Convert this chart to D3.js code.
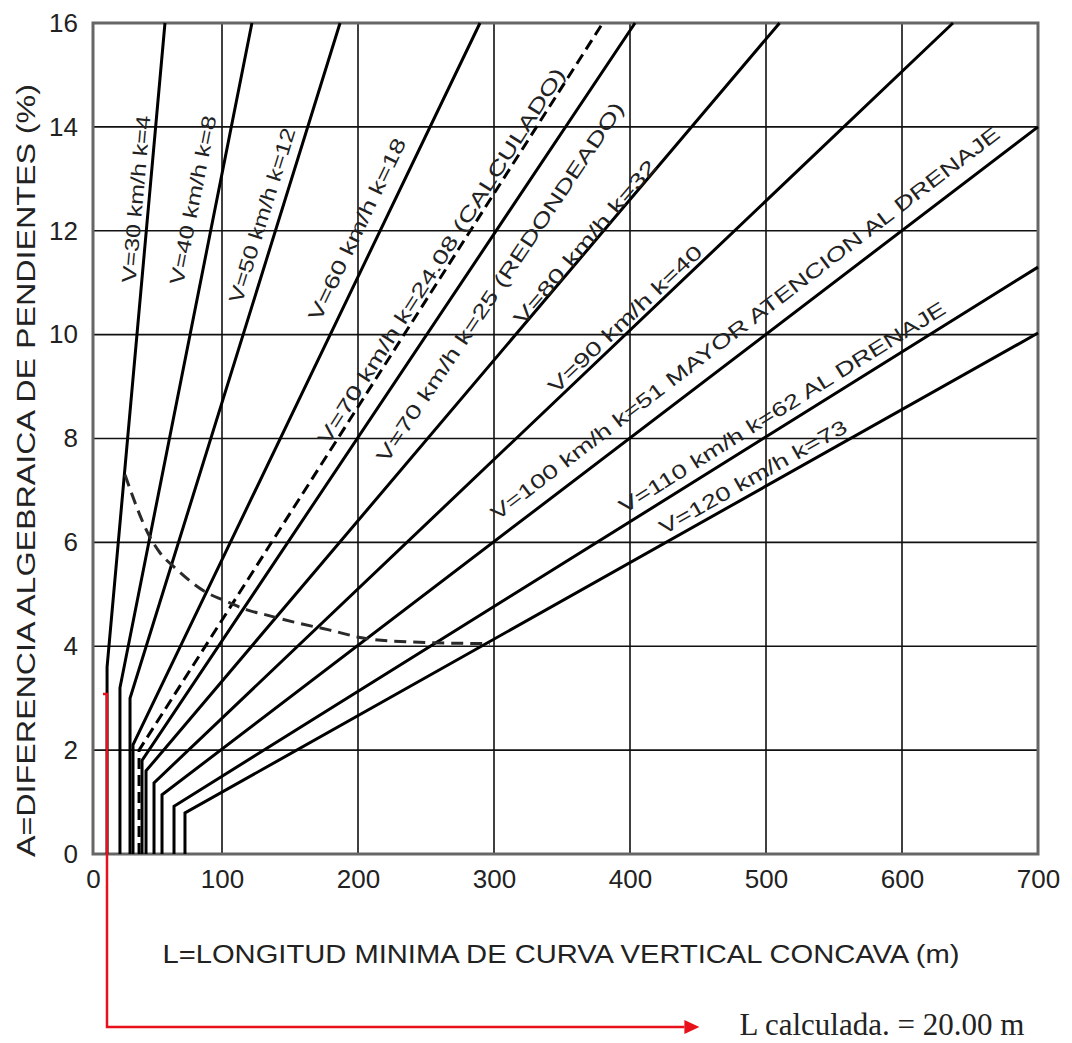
<!DOCTYPE html>
<html>
<head>
<meta charset="utf-8">
<script src="https://cdn.jsdelivr.net/npm/d3@7"></script>
<style>
  body { margin: 0; background: #fff; }
  text { font-family: "Liberation Sans", Arial, sans-serif; fill: #222; }
</style>
</head>
<body>
<svg id="chart" width="1072" height="1043"></svg>
<script>
// ---- data ----
const speeds   = ["30", "40", "50", "60", "70", "70", "80", "90", "100", "110", "120"];
const kValues  = ["4", "8", "12", "18", "24.08", "25", "32", "40", "51", "62", "73"];
const notes    = ["", "", "", "", " (CALCULADO)", " (REDONDEADO)", "", "", " MAYOR ATENCION AL DRENAJE", " AL DRENAJE", ""];
const dashed   = [false, false, false, false, true, false, false, false, false, false, false];
// vertical part: L minimum (m) up to A at the bend (%)
const minL     = [10.9, 20.9, 28.7, 31.0, 35.7, 38.0, 41.1, 47.3, 53.5, 62.8, 71.3];
const bendA    = [3.6, 3.2, 3.0, 2.1, 2.0, 1.8, 1.6, 1.37, 1.14, 0.92, 0.79];
// end of the sloped part
const endL     = [55.8, 122, 186.8, 289.7, 380, 403.7, 510, 637.5, 700, 700, 700];
const endA     = [16, 16, 16, 16, 16, 16, 16, 16, 14.0, 11.3, 10.03];
// where each label sits (L, A) and how long it runs
const labelL   = [33.3, 77.5, 129.4, 199.3, 261, 304.4, 366.9, 396.3, 484.6, 511.8, 490.4];
const labelA   = [12.61, 12.59, 12.3, 12.03, 11.51, 11.01, 11.78, 10.3, 10.22, 8.6, 7.26];
const labelLen = [168, 172, 182, 200, 442, 428, 209, 204, 634, 381, 212];

// dashed limit curve
const limitL = [24.8, 44.2, 51.9, 63.6, 88.4, 101, 118.4, 133.1, 152.2, 179.4, 203.7, 240.4, 297];
const limitA = [7.30, 6.10, 5.80, 5.51, 5.03, 4.89, 4.70, 4.60, 4.47, 4.31, 4.16, 4.08, 4.05];

const xTicks = [0, 100, 200, 300, 400, 500, 600, 700];
const yTicks = [0, 2, 4, 6, 8, 10, 12, 14, 16];

// red annotation
const calcL = 10.85, calcA = 3.08, arrowA = -3.33, arrowEndL = 440;
const calcText = "L calculada. = 20.00 m";

const svg = d3.select("#chart");

// the scan's first interval is a bit narrower than the others
const x = d3.scaleLinear().domain([0, 100, 700]).range([93, 222, 1038]);
const y = d3.scaleLinear().domain([0, 16]).range([854, 23]);

// grid
svg.append("g")
  .selectAll("line")
  .data(xTicks.slice(1, -1))
  .enter().append("line")
  .attr("x1", d => x(d)).attr("x2", d => x(d))
  .attr("y1", y(0)).attr("y2", y(16))
  .attr("stroke", "#111").attr("stroke-width", 1.6);

svg.append("g")
  .selectAll("line")
  .data(yTicks.slice(1, -1))
  .enter().append("line")
  .attr("y1", d => y(d)).attr("y2", d => y(d))
  .attr("x1", x(0)).attr("x2", x(700))
  .attr("stroke", "#111").attr("stroke-width", 1.6);

svg.append("rect")
  .attr("x", x(0)).attr("y", y(16))
  .attr("width", x(700) - x(0)).attr("height", y(0) - y(16))
  .attr("fill", "none").attr("stroke", "#666").attr("stroke-width", 3);

// axes (labels only)
const xAxis = svg.append("g")
  .attr("transform", `translate(0,${y(0)})`)
  .call(d3.axisBottom(x).tickValues(xTicks).tickSize(0).tickPadding(16).tickFormat(d3.format("d")));
const yAxis = svg.append("g")
  .attr("transform", `translate(${x(0)},0)`)
  .call(d3.axisLeft(y).tickValues(yTicks).tickSize(0).tickPadding(15).tickFormat(d3.format("d")));
[xAxis, yAxis].forEach(g => {
  g.select(".domain").remove();
  g.selectAll("text")
    .style("font-family", "'Liberation Sans', Arial, sans-serif")
    .style("font-size", "26px")
    .attr("fill", "#333");
});

// design speed lines
const line = d3.line().x(d => x(d[0])).y(d => y(d[1]));
const lines = speeds.map((v, i) => [[minL[i], 0], [minL[i], bendA[i]], [endL[i], endA[i]]]);

svg.append("g")
  .selectAll("path")
  .data(lines)
  .enter().append("path")
  .attr("d", line)
  .attr("fill", "none")
  .attr("stroke", "#000")
  .attr("stroke-width", 3)
  .attr("stroke-dasharray", (d, i) => dashed[i] ? "11,6" : null);

// limit curve
const limitPts = limitL.map((l, i) => [l, limitA[i]]);
svg.append("path")
  .attr("d", d3.line().x(d => x(d[0])).y(d => y(d[1])).curve(d3.curveMonotoneX)(limitPts))
  .attr("fill", "none")
  .attr("stroke", "#2a2a2a")
  .attr("stroke-width", 3)
  .attr("stroke-dasharray", "12,7");

// labels along the lines
svg.append("g")
  .selectAll("text")
  .data(speeds)
  .enter().append("text")
  .attr("transform", (v, i) => {
    const dx = x(endL[i]) - x(minL[i]);
    const dy = y(endA[i]) - y(bendA[i]);
    const ang = Math.atan2(dy, dx) * 180 / Math.PI;
    return `translate(${x(labelL[i])},${y(labelA[i])}) rotate(${ang})`;
  })
  .attr("text-anchor", "middle")
  .attr("dy", "0.35em")
  .attr("textLength", (v, i) => labelLen[i])
  .attr("lengthAdjust", "spacingAndGlyphs")
  .style("font-size", "20px")
  .attr("fill", "#111")
  .text((v, i) => `V=${v} km/h k=${kValues[i]}${notes[i]}`);

// axis titles
svg.append("text")
  .attr("transform", `translate(26,${(y(0) + y(16)) / 2 + 32}) rotate(-90)`)
  .attr("text-anchor", "middle")
  .attr("dy", "0.35em")
  .attr("textLength", 773)
  .attr("lengthAdjust", "spacingAndGlyphs")
  .style("font-size", "26px")
  .attr("fill", "#333")
  .text("A=DIFERENCIA ALGEBRAICA DE PENDIENTES (%)");

svg.append("text")
  .attr("x", 561).attr("y", 954)
  .attr("text-anchor", "middle")
  .attr("dy", "0.35em")
  .attr("textLength", 797)
  .attr("lengthAdjust", "spacingAndGlyphs")
  .style("font-size", "25px")
  .attr("fill", "#333")
  .text("L=LONGITUD MINIMA DE CURVA VERTICAL CONCAVA (m)");

// red annotation
const red = "#e8101a";
svg.append("path")
  .attr("d", d3.line()([
    [x(calcL) - 4, y(calcA)],
    [x(calcL), y(calcA)],
    [x(calcL), y(arrowA)],
    [x(arrowEndL), y(arrowA)]
  ]))
  .attr("fill", "none").attr("stroke", red).attr("stroke-width", 2.5);

svg.append("path")
  .attr("d", d3.line()([
    [x(arrowEndL), y(arrowA) - 7],
    [x(arrowEndL) + 15, y(arrowA)],
    [x(arrowEndL), y(arrowA) + 7]
  ]) + "Z")
  .attr("fill", red);

svg.append("text")
  .attr("x", x(arrowEndL) + 55)
  .attr("y", y(arrowA) + 8)
  .style("font-family", "'Liberation Serif', 'Times New Roman', serif")
  .style("font-size", "31px")
  .attr("fill", "#000")
  .text(calcText);
</script>
</body>
</html>
